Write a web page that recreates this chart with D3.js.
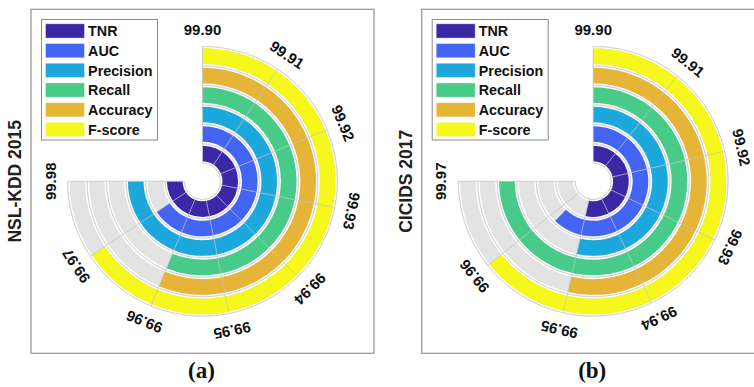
<!DOCTYPE html>
<html>
<head>
<meta charset="utf-8">
<script src="https://cdn.jsdelivr.net/npm/d3@7/dist/d3.min.js"></script>
<style>
  html, body { margin: 0; padding: 0; background: #fff; }
  svg { display: block; font-family: "Liberation Sans", Arial, sans-serif; }
</style>
</head>
<body>
<svg id="chart" width="754" height="387"></svg>
<script>
// Metrics, inner ring first
var metrics = ['TNR', 'AUC', 'Precision', 'Recall', 'Accuracy', 'F-score'];
var colors = ['#3c28a7', '#4464f4', '#1ca8dc', '#48ca88', '#e6b437', '#f6f71a'];

// (a) NSL-KDD 2015
var nslValues = [99.98, 99.97, 99.98, 99.96, 99.96, 99.97];
var nslTicks = [99.90, 99.91, 99.92, 99.93, 99.94, 99.95, 99.96, 99.97, 99.98];

// (b) CICIDS 2017
var cicValues = [99.95, 99.958, 99.95, 99.97, 99.95, 99.96];
var cicTicks = [99.90, 99.91, 99.92, 99.93, 99.94, 99.95, 99.96, 99.97];

var panels = [
    { title: 'NSL-KDD 2015', tag: '(a)', values: nslValues, ticks: nslTicks, x: 31 },
    { title: 'CICIDS 2017', tag: '(b)', values: cicValues, ticks: cicTicks, x: 421.7 }
];

var svg = d3.select('#chart'),
    boxW = 343,
    boxH = 344,
    boxY = 9.3,
    innerR = 20,
    outerR = 133,
    labelR = 152,
    sweep = Math.PI * 1.5;

var rScale = d3.scaleBand()
    .domain(metrics)
    .range([innerR, outerR])
    .paddingInner(0.2);

var gap = rScale.step() - rScale.bandwidth();

panels.forEach(function(p) {

    var cx = p.x + boxW / 2,
        cy = boxY + boxH / 2;

    var aScale = d3.scaleLinear()
        .domain([p.ticks[0], p.ticks[p.ticks.length - 1]])
        .range([0, sweep]);

    // panel frame
    svg.append('rect')
        .attr('x', p.x)
        .attr('y', boxY)
        .attr('width', boxW)
        .attr('height', boxH)
        .attr('fill', 'none')
        .attr('stroke', '#9a9a9a')
        .attr('stroke-width', 1.3);

    var g = svg.append('g')
        .attr('transform', 'translate(' + cx + ',' + cy + ')');

    var arc = d3.arc()
        .innerRadius(function(d) { return rScale(d.m); })
        .outerRadius(function(d) { return rScale(d.m) + rScale.bandwidth(); })
        .startAngle(0);

    var rows = metrics.map(function(m, i) {
        return { m: m, v: p.values[i], c: colors[i] };
    });

    // grey tracks
    g.selectAll('.track')
        .data(rows)
        .enter().append('path')
        .attr('class', 'track')
        .attr('d', function(d) { return arc.endAngle(sweep)(d); })
        .attr('fill', '#e3e3e3');

    // circular grid in the gaps between tracks
    var gridR = metrics.map(function(m) { return rScale(m) - gap / 2; });
    gridR.push(outerR + gap / 2);
    g.selectAll('.ring')
        .data(gridR)
        .enter().append('path')
        .attr('class', 'ring')
        .attr('d', function(r) {
            return d3.arc().innerRadius(r).outerRadius(r).startAngle(0).endAngle(sweep)();
        })
        .attr('fill', 'none')
        .attr('stroke', '#d2d2d2')
        .attr('stroke-width', 0.8);

    // value bars
    g.selectAll('.bar')
        .data(rows)
        .enter().append('path')
        .attr('class', 'bar')
        .attr('d', function(d) { return arc.endAngle(aScale(d.v))(d); })
        .attr('fill', function(d) { return d.c; });

    // radial grid lines over everything
    g.selectAll('.spoke')
        .data(p.ticks)
        .enter().append('line')
        .attr('class', 'spoke')
        .attr('x1', function(t) { return (innerR - gap / 2) * Math.sin(aScale(t)); })
        .attr('y1', function(t) { return -(innerR - gap / 2) * Math.cos(aScale(t)); })
        .attr('x2', function(t) { return (outerR + gap / 2) * Math.sin(aScale(t)); })
        .attr('y2', function(t) { return -(outerR + gap / 2) * Math.cos(aScale(t)); })
        .attr('stroke', '#c4c4c4')
        .attr('stroke-opacity', 0.85)
        .attr('stroke-width', 0.9);

    // tick labels, turned along the circle
    g.selectAll('.tick-label')
        .data(p.ticks)
        .enter().append('text')
        .attr('class', 'tick-label')
        .attr('transform', function(t) {
            var a = aScale(t);
            return 'translate(' + (labelR * Math.sin(a)) + ',' + (-labelR * Math.cos(a)) + ') rotate(' + (a * 180 / Math.PI) + ')';
        })
        .attr('text-anchor', 'middle')
        .attr('dy', '0.35em')
        .style('font-size', '15px')
        .style('font-weight', 'bold')
        .attr('fill', '#111')
        .text(d3.format('.2f'));

    // legend
    var lx = p.x + 10.5,
        ly = 19.5;
    var legend = svg.append('g')
        .attr('transform', 'translate(' + lx + ',' + ly + ')');
    legend.append('rect')
        .attr('width', 116)
        .attr('height', 120.5)
        .attr('fill', '#fff')
        .attr('stroke', '#8a8a8a')
        .attr('stroke-width', 1);
    var item = legend.selectAll('.item')
        .data(rows)
        .enter().append('g')
        .attr('class', 'item')
        .attr('transform', function(d, i) { return 'translate(4,' + (4.3 + i * 19.7) + ')'; });
    item.append('rect')
        .attr('width', 39)
        .attr('height', 14.3)
        .attr('fill', function(d) { return d.c; })
        .attr('stroke', '#fff')
        .attr('stroke-opacity', 0.5)
        .attr('stroke-width', 0.8);
    item.append('text')
        .attr('x', 42.6)
        .attr('y', 7.2)
        .attr('dy', '0.36em')
        .style('font-size', '14.3px')
        .style('font-weight', 'bold')
        .attr('fill', '#111')
        .text(function(d) { return d.m; });

    // dataset title on the left
    svg.append('text')
        .attr('transform', 'translate(' + (p.x - 16) + ',' + cy + ') rotate(-90)')
        .attr('text-anchor', 'middle')
        .attr('dy', '0.36em')
        .style('font-size', '17.5px')
        .style('font-weight', 'bold')
        .attr('fill', '#222')
        .text(p.title);

    // (a) / (b)
    svg.append('text')
        .attr('x', cx - 1)
        .attr('y', 377.5)
        .attr('text-anchor', 'middle')
        .style('font-family', '"Liberation Serif", "Times New Roman", serif')
        .style('font-size', '23px')
        .style('font-weight', 'bold')
        .attr('fill', '#111')
        .text(p.tag);
});
</script>
</body>
</html>
